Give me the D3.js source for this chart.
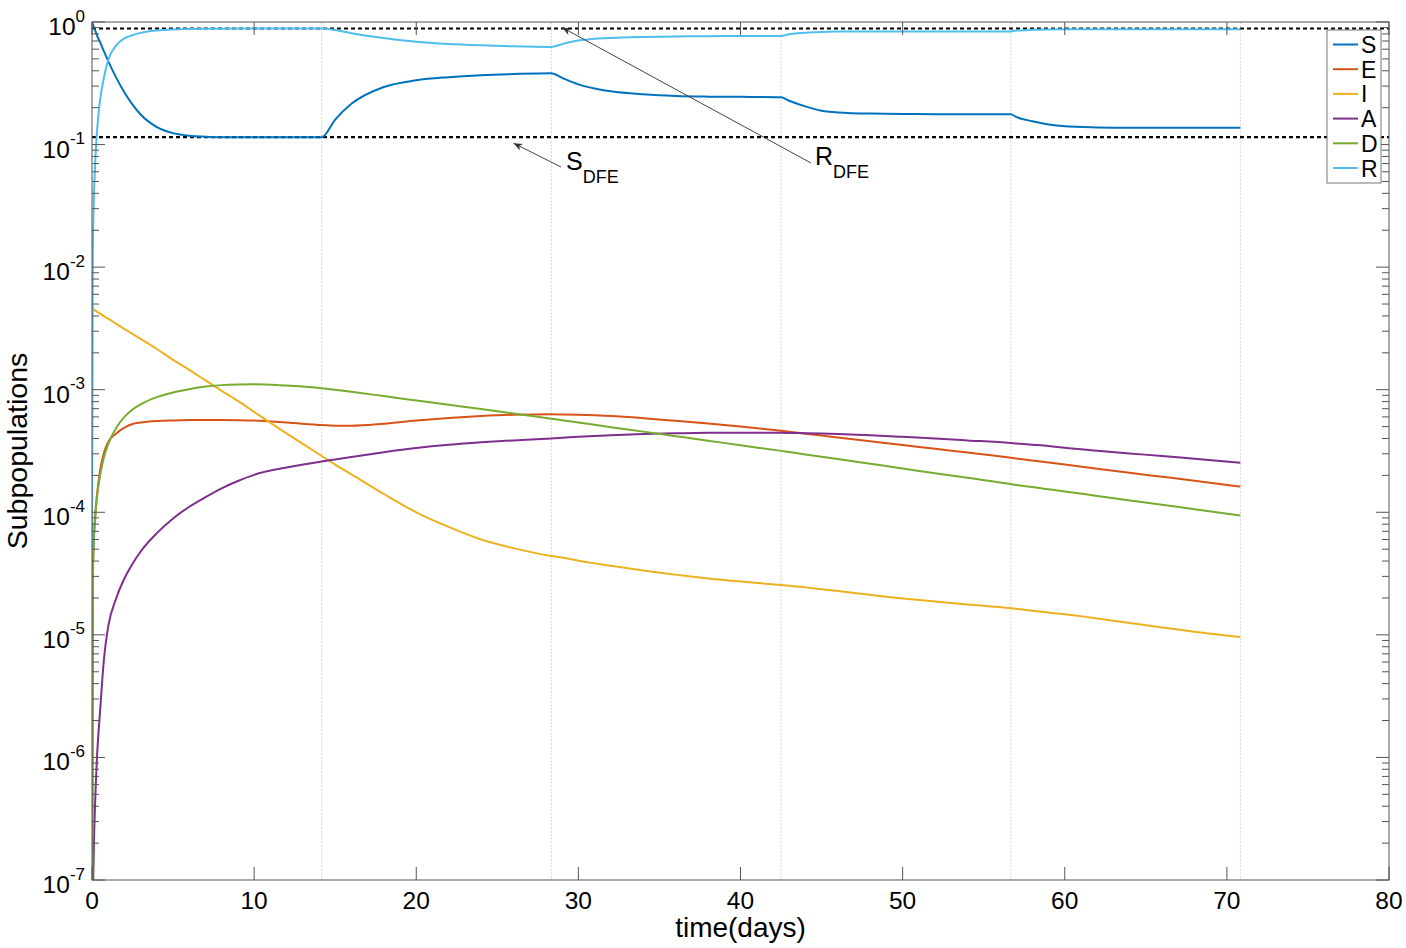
<!DOCTYPE html>
<html>
<head>
<meta charset="utf-8">
<script src="https://cdn.jsdelivr.net/npm/d3@7"></script>
<style>
  html, body { margin: 0; padding: 0; background: #fff; }
  svg { display: block; font-family: "Liberation Sans", Arial, Helvetica, sans-serif; }
</style>
</head>
<body>
<svg id="chart" width="1406" height="948"></svg>
<script>
// ---------------- data ----------------
const time = [0, 0.05, 0.1, 0.2, 0.3, 0.5, 0.75, 1, 1.5, 2, 2.5, 3, 4, 5, 6, 7, 8, 9, 10, 12,
  14.17, 15, 16, 18, 20, 22, 24, 26, 28.33, 29, 30, 31, 32, 34, 36, 38, 40, 42.5, 43, 44, 45, 46,
  48, 50, 52, 54, 56.67, 57, 58, 59, 60, 62, 64, 66, 68, 70.83];

const valuesS = [1.0, 0.96, 0.92, 0.85, 0.78, 0.684, 0.57, 0.48, 0.35, 0.266, 0.212, 0.176, 0.139, 0.124, 0.118, 0.116, 0.115, 0.115, 0.115, 0.115,
  0.115, 0.16, 0.215, 0.295, 0.335, 0.355, 0.368, 0.376, 0.382, 0.35, 0.31, 0.287, 0.272, 0.257, 0.249, 0.246, 0.245, 0.243, 0.228, 0.205, 0.189, 0.183,
  0.179, 0.178, 0.177, 0.177, 0.177, 0.168, 0.155, 0.146, 0.141, 0.138, 0.137, 0.137, 0.137, 0.137];

const valuesE = [1e-9, 3e-5, 5.5e-5, 9.5e-5, 1.35e-4, 2.2e-4, 3.1e-4, 3.75e-4, 4.4e-4, 4.9e-4, 5.25e-4, 5.4e-4, 5.56e-4, 5.62e-4, 5.65e-4, 5.66e-4, 5.66e-4, 5.64e-4, 5.6e-4, 5.4e-4,
  5.15e-4, 5.08e-4, 5.08e-4, 5.28e-4, 5.6e-4, 5.88e-4, 6.1e-4, 6.25e-4, 6.3e-4, 6.28e-4, 6.24e-4, 6.18e-4, 6.1e-4, 5.86e-4, 5.58e-4, 5.3e-4, 5.01e-4, 4.62e-4, 4.54e-4, 4.38e-4, 4.23e-4, 4.08e-4,
  3.8e-4, 3.54e-4, 3.3e-4, 3.07e-4, 2.79e-4, 2.75e-4, 2.65e-4, 2.55e-4, 2.45e-4, 2.27e-4, 2.1e-4, 1.95e-4, 1.81e-4, 1.62e-4];

const valuesI = [4.6e-3, 4.56e-3, 4.51e-3, 4.42e-3, 4.34e-3, 4.17e-3, 3.97e-3, 3.8e-3, 3.44e-3, 3.13e-3, 2.85e-3, 2.6e-3, 2.15e-3, 1.75e-3, 1.45e-3, 1.19e-3, 9.8e-4, 8.1e-4, 6.6e-4, 4.4e-4,
  2.88e-4, 2.45e-4, 2.04e-4, 1.41e-4, 1.0e-4, 7.6e-5, 6.0e-5, 5.1e-5, 4.4e-5, 4.27e-5, 4.03e-5, 3.83e-5, 3.66e-5, 3.35e-5, 3.1e-5, 2.88e-5, 2.72e-5, 2.55e-5, 2.52e-5, 2.44e-5, 2.36e-5, 2.28e-5,
  2.12e-5, 1.98e-5, 1.87e-5, 1.77e-5, 1.65e-5, 1.63e-5, 1.57e-5, 1.52e-5, 1.47e-5, 1.36e-5, 1.25e-5, 1.15e-5, 1.06e-5, 9.6e-6];

const valuesA = [1e-9, 5e-8, 1.5e-7, 4.5e-7, 9.5e-7, 2.4e-6, 6.6e-6, 1.17e-5, 2.0e-5, 2.88e-5, 3.8e-5, 4.79e-5, 6.76e-5, 8.91e-5, 1.11e-4, 1.33e-4, 1.57e-4, 1.8e-4, 2.02e-4, 2.32e-4,
  2.6e-4, 2.7e-4, 2.83e-4, 3.09e-4, 3.34e-4, 3.55e-4, 3.72e-4, 3.86e-4, 4.0e-4, 4.05e-4, 4.13e-4, 4.2e-4, 4.26e-4, 4.35e-4, 4.41e-4, 4.45e-4, 4.46e-4, 4.45e-4, 4.44e-4, 4.42e-4, 4.39e-4, 4.35e-4,
  4.25e-4, 4.13e-4, 4.0e-4, 3.86e-4, 3.67e-4, 3.64e-4, 3.56e-4, 3.48e-4, 3.36e-4, 3.18e-4, 3.02e-4, 2.88e-4, 2.73e-4, 2.54e-4];

const valuesD = [1e-9, 2.5e-5, 5e-5, 9e-5, 1.3e-4, 2.0e-4, 2.85e-4, 3.6e-4, 4.9e-4, 6.0e-4, 6.9e-4, 7.6e-4, 8.7e-4, 9.5e-4, 1.01e-3, 1.06e-3, 1.09e-3, 1.105e-3, 1.11e-3, 1.08e-3,
  1.03e-3, 1.0e-3, 9.62e-4, 8.87e-4, 8.17e-4, 7.53e-4, 6.95e-4, 6.4e-4, 5.8e-4, 5.64e-4, 5.4e-4, 5.17e-4, 4.95e-4, 4.55e-4, 4.18e-4, 3.84e-4, 3.52e-4, 3.17e-4, 3.1e-4, 2.96e-4, 2.84e-4, 2.72e-4,
  2.49e-4, 2.28e-4, 2.08e-4, 1.91e-4, 1.7e-4, 1.67e-4, 1.61e-4, 1.54e-4, 1.48e-4, 1.36e-4, 1.25e-4, 1.15e-4, 1.06e-4, 9.4e-5];

const valuesR = [5e-5, 0.012, 0.03, 0.072, 0.124, 0.231, 0.36, 0.49, 0.645, 0.735, 0.78, 0.815, 0.853, 0.87, 0.877, 0.88, 0.882, 0.883, 0.884, 0.885,
  0.885, 0.86, 0.81, 0.74, 0.69, 0.662, 0.645, 0.633, 0.626, 0.66, 0.705, 0.73, 0.742, 0.755, 0.762, 0.766, 0.768, 0.77, 0.795, 0.818, 0.83, 0.835,
  0.838, 0.838, 0.838, 0.838, 0.838, 0.852, 0.864, 0.869, 0.871, 0.871, 0.871, 0.871, 0.871, 0.871];

const seriesNames = ["S", "E", "I", "A", "D", "R"];
const seriesValues = [valuesS, valuesE, valuesI, valuesA, valuesD, valuesR];
const seriesColors = ["#0072BD", "#D95319", "#EDB120", "#7E2F8E", "#77AC30", "#4DBEEE"];

const xTicks = [0, 10, 20, 30, 40, 50, 60, 70, 80];
const yTickExponents = [0, -1, -2, -3, -4, -5, -6, -7];
const switchTimes = [14.17, 28.33, 42.5, 56.67, 70.83];
const sDFE = 0.115;
const rDFE = 0.885;

// ---------------- layout ----------------
(function draw() {
const svg = d3.select("#chart");
const pL = 92, pR = 1389, pT = 22, pB = 880;
const x = d3.scaleLinear().domain([0, 80]).range([pL, pR]);
const y = d3.scaleLog().domain([1e-7, 1]).range([pB, pT]);
const axisColor = "#555";

const defs = svg.append("defs");
defs.append("clipPath").attr("id", "plotclip")
  .append("rect").attr("x", pL).attr("y", pT).attr("width", pR - pL).attr("height", pB - pT);

defs.append("marker")
  .attr("id", "arrow").attr("viewBox", "0 0 10 10").attr("refX", 10).attr("refY", 5)
  .attr("markerWidth", 9).attr("markerHeight", 9).attr("orient", "auto")
  .attr("markerUnits", "userSpaceOnUse")
  .append("path").attr("d", "M0,1 L10,5 L0,9 L3,5 Z").attr("fill", "#333");

const plot = svg.append("g");

plot.selectAll("line.switch").data(switchTimes).enter().append("line")
  .attr("class", "switch")
  .attr("x1", d => x(d)).attr("x2", d => x(d))
  .attr("y1", pT).attr("y2", pB)
  .attr("stroke", "#d4d4d4").attr("stroke-width", 1).attr("stroke-dasharray", "2,1.5");

plot.selectAll("line.dfe").data([sDFE, rDFE]).enter().append("line")
  .attr("class", "dfe")
  .attr("x1", x(0)).attr("x2", x(80))
  .attr("y1", d => y(d)).attr("y2", d => y(d))
  .attr("stroke", "#000").attr("stroke-width", 2.2).attr("stroke-dasharray", "4,3");

const lineGen = d3.line()
  .x(d => x(d[0]))
  .y(d => y(d[1]))
  .curve(d3.curveMonotoneX);

const curves = plot.append("g").attr("clip-path", "url(#plotclip)");
seriesValues.forEach((vals, i) => {
  const pts = time.map((t, k) => [t, vals[k]]);
  curves.append("path")
    .attr("d", lineGen(pts))
    .attr("fill", "none")
    .attr("stroke", seriesColors[i])
    .attr("stroke-width", 2)
    .attr("stroke-linejoin", "round");
});

// ---------------- axes ----------------
const axes = svg.append("g");
axes.append("rect").attr("x", pL).attr("y", pT).attr("width", pR - pL).attr("height", pB - pT)
  .attr("fill", "none").attr("stroke", axisColor).attr("stroke-width", 1);

const majorLen = 13, minorLen = 7;
xTicks.forEach(t => {
  axes.append("line").attr("x1", x(t)).attr("x2", x(t)).attr("y1", pB).attr("y2", pB - majorLen)
    .attr("stroke", axisColor).attr("stroke-width", 1);
  axes.append("line").attr("x1", x(t)).attr("x2", x(t)).attr("y1", pT).attr("y2", pT + majorLen)
    .attr("stroke", axisColor).attr("stroke-width", 1);
  axes.append("text").attr("x", x(t)).attr("y", 909).attr("text-anchor", "middle")
    .attr("font-size", 24.5).attr("fill", "#000").text(t);
});

yTickExponents.forEach(e => {
  const v = Math.pow(10, e);
  const yy = y(v);
  [[pL, pL + majorLen], [pR, pR - majorLen]].forEach(([a, b]) => {
    axes.append("line").attr("x1", a).attr("x2", b).attr("y1", yy).attr("y2", yy)
      .attr("stroke", axisColor).attr("stroke-width", 1);
  });
  const lbl = axes.append("text").attr("x", 85).attr("y", yy + 13).attr("text-anchor", "end")
    .attr("fill", "#000");
  lbl.append("tspan").attr("font-size", 24.5).text("10");
  lbl.append("tspan").attr("font-size", 17).attr("dy", -13.5).text(String(e));
  if (e > -7) {
    for (let m = 2; m <= 9; m++) {
      const ym = y(m * Math.pow(10, e - 1));
      [[pL, pL + minorLen], [pR, pR - minorLen]].forEach(([a, b]) => {
        axes.append("line").attr("x1", a).attr("x2", b).attr("y1", ym).attr("y2", ym)
          .attr("stroke", axisColor).attr("stroke-width", 1);
      });
    }
  }
});

svg.append("text").attr("x", (pL + pR) / 2).attr("y", 937).attr("text-anchor", "middle")
  .attr("font-size", 28).attr("fill", "#000").text("time(days)");
svg.append("text").attr("transform", "translate(27," + ((pT + pB) / 2) + ") rotate(-90)")
  .attr("text-anchor", "middle").attr("font-size", 28.5).attr("fill", "#000").text("Subpopulations");

// ---------------- annotations ----------------
const ann = svg.append("g");
ann.append("line").attr("x1", 561).attr("y1", 167).attr("x2", x(26)).attr("y2", y(sDFE) + 6)
  .attr("stroke", "#444").attr("stroke-width", 1).attr("marker-end", "url(#arrow)");
const sT = ann.append("text").attr("x", 566).attr("y", 170).attr("fill", "#000");
sT.append("tspan").attr("font-size", 25).text("S");
sT.append("tspan").attr("font-size", 18).attr("dy", 13).text("DFE");

ann.append("line").attr("x1", 811).attr("y1", 163).attr("x2", x(29)).attr("y2", y(rDFE) - 1)
  .attr("stroke", "#444").attr("stroke-width", 1).attr("marker-end", "url(#arrow)");
const rT = ann.append("text").attr("x", 815).attr("y", 165).attr("fill", "#000");
rT.append("tspan").attr("font-size", 25).text("R");
rT.append("tspan").attr("font-size", 18).attr("dy", 13).text("DFE");

// ---------------- legend ----------------
const lg = svg.append("g");
lg.append("rect").attr("x", 1327).attr("y", 30).attr("width", 54).attr("height", 153)
  .attr("fill", "#fff").attr("stroke", "#777").attr("stroke-width", 1);
seriesNames.forEach((n, i) => {
  const ly = 44.5 + i * 24.7;
  lg.append("line").attr("x1", 1333).attr("x2", 1358).attr("y1", ly).attr("y2", ly)
    .attr("stroke", seriesColors[i]).attr("stroke-width", 2);
  lg.append("text").attr("x", 1361).attr("y", ly + 8.5).attr("font-size", 23).attr("fill", "#000").text(n);
});
})();
</script>
</body>
</html>
